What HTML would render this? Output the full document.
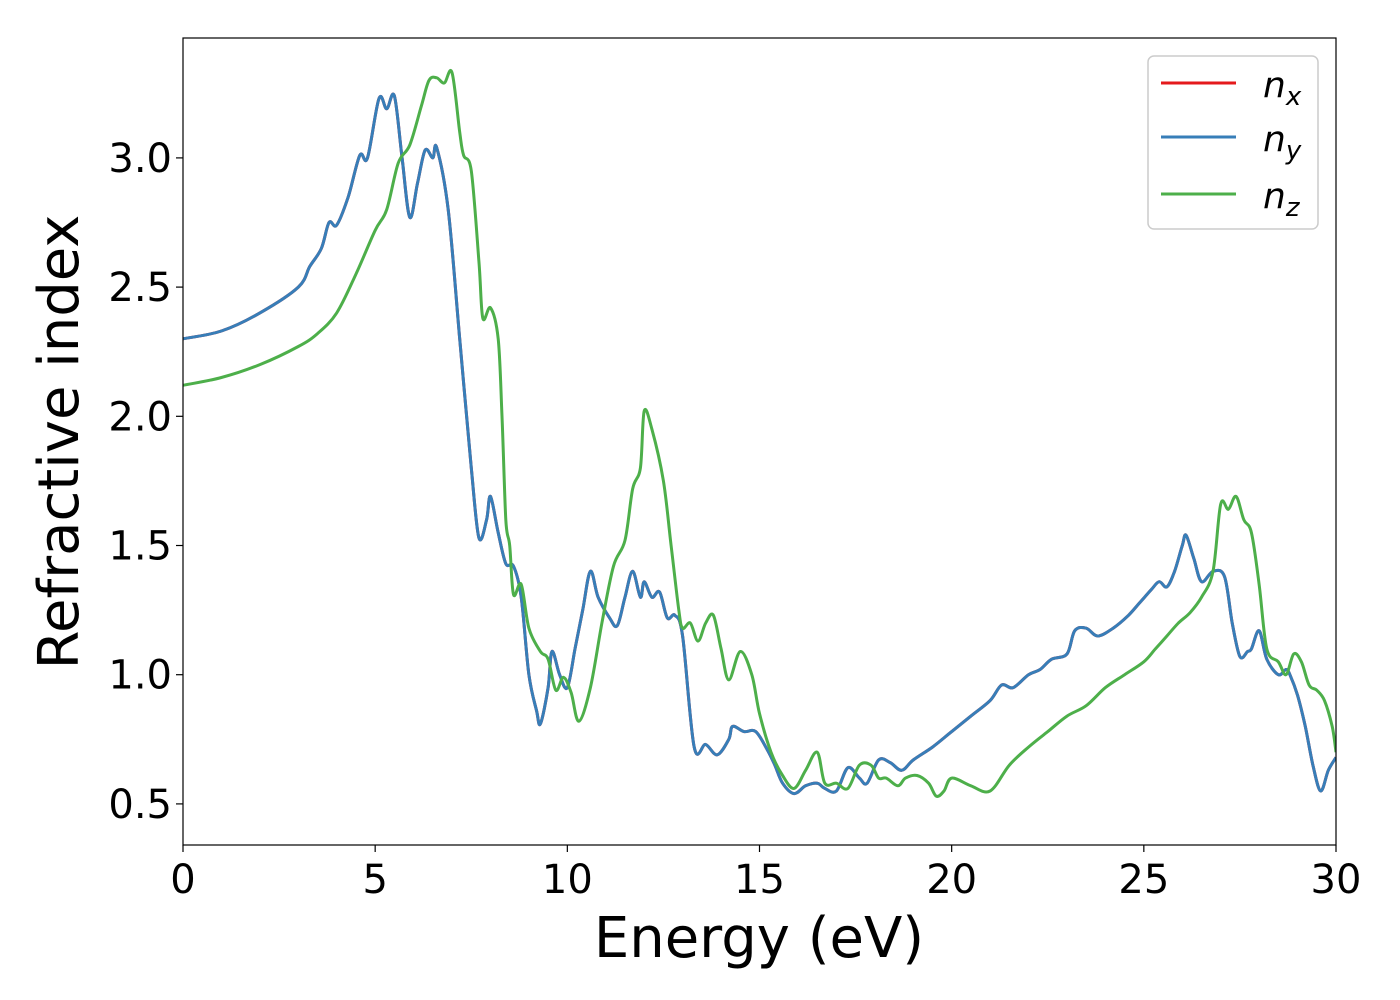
<!DOCTYPE html>
<html><head><meta charset="utf-8"><style>
body{margin:0;background:#fff;}
svg{display:block;font-family:"DejaVu Sans","Liberation Sans",sans-serif;}
</style></head><body>
<svg id="chart" width="1400" height="1000" viewBox="0 0 1400 1000">
<rect x="0" y="0" width="1400" height="1000" fill="#fff"/>
<g id="plot"></g>
<g id="axes"></g>
<g>
<rect x="1148" y="56" width="170" height="173" rx="6" fill="#fff" fill-opacity="0.8" stroke="#ccc" stroke-width="1.5"/>
<g><line x1="1161" y1="83" x2="1236" y2="83" stroke="#e41a1c" stroke-width="3"/><text x="1263" y="97" font-size="36" font-style="italic">n<tspan font-size="26" dy="8">x</tspan></text></g>
<g><line x1="1161" y1="137" x2="1236" y2="137" stroke="#377eb8" stroke-width="3"/><text x="1263" y="151" font-size="36" font-style="italic">n<tspan font-size="26" dy="8">y</tspan></text></g>
<g><line x1="1161" y1="194" x2="1236" y2="194" stroke="#4daf4a" stroke-width="3"/><text x="1263" y="208" font-size="36" font-style="italic">n<tspan font-size="26" dy="8">z</tspan></text></g>
</g>
</svg>
<script>
const xTicks=[0,5,10,15,20,25,30];
const yTicks=[0.5,1.0,1.5,2.0,2.5,3.0];
const yTickLabels=["0.5","1.0","1.5","2.0","2.5","3.0"];
const energyXY=[0,1,2,3,3.3,3.6,3.8,4.0,4.3,4.6,4.8,5.1,5.3,5.5,5.7,5.9,6.1,6.3,6.5,6.6,6.9,7.2,7.5,7.7,7.9,8.0,8.2,8.4,8.6,8.8,9.0,9.2,9.3,9.5,9.6,9.8,10.0,10.2,10.4,10.6,10.8,11.1,11.3,11.5,11.7,11.9,12.0,12.2,12.4,12.6,12.8,13.0,13.3,13.6,13.9,14.2,14.3,14.6,14.9,15.2,15.4,15.6,15.9,16.2,16.5,16.7,17.0,17.3,17.6,17.8,18.1,18.4,18.7,19.0,19.5,20.0,20.5,21.0,21.3,21.6,22.0,22.3,22.6,23.0,23.2,23.5,23.8,24.2,24.6,24.9,25.2,25.4,25.6,25.8,26.0,26.1,26.3,26.5,26.8,27.1,27.3,27.5,27.7,27.8,28.0,28.2,28.5,28.7,28.8,29.0,29.2,29.4,29.6,29.8,30];
const nyValues=[2.30,2.33,2.40,2.50,2.58,2.65,2.75,2.74,2.85,3.01,3.0,3.23,3.19,3.24,3.0,2.77,2.9,3.03,3.0,3.04,2.8,2.3,1.8,1.53,1.6,1.69,1.55,1.43,1.42,1.3,1.0,0.86,0.81,0.95,1.09,1.0,0.95,1.1,1.25,1.40,1.30,1.22,1.19,1.3,1.40,1.30,1.36,1.30,1.32,1.22,1.23,1.15,0.72,0.73,0.69,0.75,0.80,0.78,0.78,0.71,0.65,0.58,0.54,0.57,0.58,0.56,0.55,0.64,0.60,0.58,0.67,0.66,0.63,0.67,0.72,0.78,0.84,0.90,0.96,0.95,1.0,1.02,1.06,1.08,1.17,1.18,1.15,1.18,1.23,1.28,1.33,1.36,1.34,1.40,1.50,1.54,1.45,1.36,1.40,1.38,1.20,1.07,1.09,1.1,1.17,1.06,1.0,1.02,1.0,0.92,0.8,0.65,0.55,0.63,0.68];
const nxValues=nyValues.slice();
const energyZ=[0,1,2,3,3.5,4,4.5,5,5.3,5.6,5.9,6.2,6.4,6.6,6.8,7.0,7.2,7.3,7.5,7.7,7.8,8.0,8.2,8.3,8.4,8.5,8.6,8.8,9.0,9.3,9.5,9.7,9.9,10.1,10.3,10.6,10.9,11.2,11.5,11.7,11.9,12.0,12.2,12.5,12.7,12.9,13.0,13.2,13.4,13.6,13.8,14.0,14.2,14.5,14.8,15.0,15.3,15.6,15.9,16.2,16.5,16.7,17.0,17.3,17.6,17.9,18.1,18.3,18.6,18.8,19.1,19.4,19.6,19.8,20.0,20.5,21.0,21.5,22.0,22.5,23.0,23.5,24.0,24.5,25.0,25.3,25.6,25.9,26.2,26.5,26.8,27.0,27.2,27.4,27.6,27.8,28.0,28.2,28.5,28.7,28.9,29.1,29.3,29.5,29.7,29.9,30];
const nzValues=[2.12,2.15,2.20,2.27,2.32,2.40,2.55,2.72,2.80,2.98,3.05,3.20,3.30,3.31,3.29,3.33,3.1,3.01,2.95,2.6,2.38,2.42,2.30,2.0,1.6,1.5,1.31,1.35,1.18,1.09,1.06,0.94,0.99,0.93,0.82,0.95,1.2,1.42,1.52,1.72,1.80,2.02,1.95,1.75,1.5,1.25,1.18,1.20,1.13,1.20,1.23,1.10,0.98,1.09,1.0,0.85,0.70,0.61,0.56,0.63,0.70,0.58,0.58,0.56,0.65,0.65,0.6,0.6,0.57,0.60,0.61,0.58,0.53,0.55,0.60,0.57,0.55,0.65,0.72,0.78,0.84,0.88,0.95,1.00,1.05,1.10,1.15,1.20,1.24,1.30,1.40,1.66,1.64,1.69,1.60,1.55,1.35,1.10,1.05,1.0,1.08,1.05,0.96,0.94,0.90,0.80,0.70,0.71,0.68,0.79,0.78];
// fix nz array length mismatch by trimming to shortest
const X0=183,X1=1336,Y0=38,Y1=845,XMIN=0,XMAX=30,YMIN=0.341,YMAX=3.464;
const sx=v=>X0+(v-XMIN)/(XMAX-XMIN)*(X1-X0);
const sy=v=>Y1-(v-YMIN)/(YMAX-YMIN)*(Y1-Y0);
const NS="http://www.w3.org/2000/svg";
function mk(t,a){const e=document.createElementNS(NS,t);for(const k in a)e.setAttribute(k,a[k]);return e;}
function pathFor(xs,ys){const n=Math.min(xs.length,ys.length);const p=[];for(let i=0;i<n;i++)p.push([sx(xs[i]),sy(ys[i])]);
let d="M"+p[0][0].toFixed(1)+","+p[0][1].toFixed(1);
for(let i=0;i<p.length-1;i++){const a=p[Math.max(0,i-1)],b=p[i],c=p[i+1],e=p[Math.min(p.length-1,i+2)];
const c1=[b[0]+(c[0]-a[0])/6,b[1]+(c[1]-a[1])/6],c2=[c[0]-(e[0]-b[0])/6,c[1]-(e[1]-b[1])/6];
d+=" C"+c1[0].toFixed(1)+","+c1[1].toFixed(1)+" "+c2[0].toFixed(1)+","+c2[1].toFixed(1)+" "+c[0].toFixed(1)+","+c[1].toFixed(1);}
return d;}
const plot=document.getElementById('plot');
const clip=mk('clipPath',{id:'clp'});clip.appendChild(mk('rect',{x:X0,y:Y0,width:X1-X0,height:Y1-Y0}));plot.appendChild(clip);
const series=[[energyXY,nxValues,'#e41a1c','series-nx'],[energyXY,nyValues,'#377eb8','series-ny'],[energyZ,nzValues,'#4daf4a','series-nz']];
for(const s of series){const el=mk('path',{d:pathFor(s[0],s[1]),fill:'none',stroke:s[2],'stroke-width':3,'clip-path':'url(#clp)','stroke-linejoin':'round'});


plot.appendChild(el);}
const axes=document.getElementById('axes');
const frame=mk('rect',{x:X0,y:Y0,width:X1-X0,height:Y1-Y0,fill:'none',stroke:'#000','stroke-width':1.2});


axes.appendChild(frame);
xTicks.forEach(v=>{const x=sx(v);
axes.appendChild(mk('line',{x1:x,y1:Y1,x2:x,y2:Y1+7,stroke:'#000','stroke-width':1.2}));
const t=mk('text',{x:x,y:893,'font-size':40,'text-anchor':'middle'});t.textContent=String(v);


axes.appendChild(t);});
yTicks.forEach((v,i)=>{const y=sy(v);
axes.appendChild(mk('line',{x1:X0-7,y1:y,x2:X0,y2:y,stroke:'#000','stroke-width':1.2}));
const t=mk('text',{x:172,y:y+14,'font-size':40,'text-anchor':'end'});t.textContent=yTickLabels[i];


axes.appendChild(t);});
const xl=mk('text',{x:759,y:957,'font-size':56,'text-anchor':'middle'});xl.textContent='Energy (eV)';


axes.appendChild(xl);
const yl=mk('text',{x:0,y:0,'font-size':56,'text-anchor':'middle',transform:'translate(78,442) rotate(-90)'});yl.textContent='Refractive index';


axes.appendChild(yl);
</script>
</body></html>
